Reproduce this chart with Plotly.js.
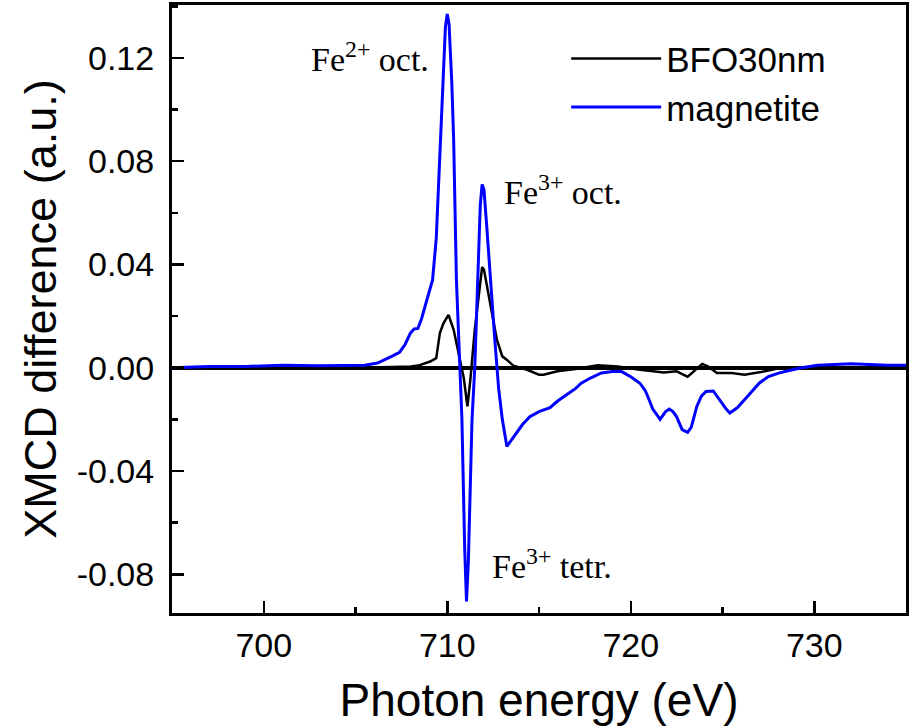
<!DOCTYPE html>
<html>
<head>
<meta charset="utf-8">
<script src="https://cdn.plot.ly/plotly-3.0.1.min.js"></script>
<style>html,body{margin:0;padding:0;background:#fff;}#chart{width:914px;height:726px;}</style>
</head>
<body>
<div id="chart"></div>
<script>
// Magnetite XMCD (blue)
const magEnergy = [695,697,699,701,703,704.5,705.5,706.2,706.6,707.0,707.4,707.7,708.0,708.2,708.4,708.6,708.8,709.0,709.2,709.4,709.6,709.75,709.9,710.0,710.1,710.25,710.35,710.5,710.65,710.8,710.95,711.05,711.15,711.35,711.5,711.65,711.8,711.9,712.0,712.15,712.35,712.6,712.8,713.0,713.25,713.5,713.8,714.1,714.5,715.0,715.6,716.0,716.5,717.0,717.3,717.8,718.4,719.0,719.5,720.0,720.5,720.8,721.0,721.2,721.4,721.6,721.9,722.1,722.3,722.5,722.8,723.1,723.3,723.4,723.6,723.85,724.1,724.5,724.9,725.2,725.4,725.8,726.2,726.6,727.0,727.5,728.1,728.7,729.3,730.2,731,732,733,734,735];
const magValue = [0.0,0.0005,0.0005,0.001,0.0008,0.0008,0.001,0.0018,0.003,0.0045,0.006,0.009,0.0135,0.015,0.0152,0.019,0.024,0.029,0.034,0.05,0.082,0.11,0.132,0.137,0.133,0.11,0.088,0.034,0.01,-0.02,-0.07,-0.0905,-0.075,-0.02,0.0,0.035,0.063,0.071,0.069,0.055,0.034,0.01,-0.008,-0.02,-0.0305,-0.028,-0.025,-0.022,-0.019,-0.017,-0.0155,-0.013,-0.0105,-0.008,-0.006,-0.004,-0.002,-0.0015,-0.0015,-0.0035,-0.006,-0.009,-0.0124,-0.016,-0.018,-0.02,-0.017,-0.016,-0.017,-0.019,-0.024,-0.025,-0.023,-0.02,-0.015,-0.011,-0.0092,-0.009,-0.013,-0.016,-0.0175,-0.0155,-0.0124,-0.009,-0.006,-0.0034,-0.002,-0.001,0.0,0.001,0.0012,0.0015,0.0013,0.001,0.001];

// BFO30nm XMCD (black)
const bfoEnergy = [695,700,705,707,708,708.5,709.07,709.4,709.6,709.8,710.07,710.35,710.6,710.9,711.1,711.26,711.5,711.8,711.9,712.0,712.2,712.45,712.7,713.0,713.26,713.6,714.0,714.35,715.0,715.25,716.0,717.0,718.2,719.3,720.5,721.8,722.5,723.1,723.5,723.9,724.2,724.7,725.5,726.2,727.3,728.2,730,735];
const bfoValue = [0,0,0,0.0003,0.0005,0.001,0.0024,0.0037,0.0135,0.0173,0.0205,0.0147,0.0057,-0.004,-0.015,-0.0046,0.0147,0.034,0.039,0.038,0.030,0.021,0.011,0.0044,0.003,0.0008,0.0,-0.0008,-0.0027,-0.0027,-0.0014,-0.0005,0.001,0.0005,-0.0008,-0.0018,-0.0014,-0.0035,-0.001,0.0015,0.0005,-0.002,-0.002,-0.0027,-0.0014,0.0,0.0,0];

const seriesNames = ["BFO30nm", "magnetite"];
const xTickVals = [700, 710, 720, 730];
const yTickVals = [-0.08, -0.04, 0.00, 0.04, 0.08, 0.12];
const yTickText = ["-0.08", "-0.04", "0.00", "0.04", "0.08", "0.12"];

const sans = "Liberation Sans, Arial, sans-serif";
const serif = "Liberation Serif, Times New Roman, serif";

const traces = [
  {x: bfoEnergy, y: bfoValue, name: seriesNames[0], mode: "lines",
   line: {color: "#000000", width: 2.5}},
  {x: magEnergy, y: magValue, name: seriesNames[1], mode: "lines",
   line: {color: "#0000ff", width: 3}}
];

const axisCommon = {
  showgrid: false, showline: true, linecolor: "#000", linewidth: 3, mirror: true,
  ticks: "inside", ticklen: 12, tickwidth: 2.5, tickcolor: "#000",
  tickfont: {family: sans, size: 34, color: "#000"}
};

const layout = {
  width: 914, height: 726,
  margin: {l: 172, r: 8, t: 5, b: 113},
  paper_bgcolor: "#fff", plot_bgcolor: "#fff",
  showlegend: true,
  legend: {x: 0.537, y: 0.96, xanchor: "left", yanchor: "top",
           font: {family: sans, size: 35, color: "#000"},
           bgcolor: "rgba(0,0,0,0)", itemwidth: 90, tracegroupgap: 0},
  xaxis: Object.assign({}, axisCommon, {
    range: [695, 735], tickvals: xTickVals, ticktext: xTickVals.map(String),
    minor: {dtick: 5, ticks: "inside", ticklen: 6, tickwidth: 2.5, tickcolor: "#000"},
    zeroline: false,
    title: {text: "Photon energy (eV)", font: {family: sans, size: 46, color: "#000"}}
  }),
  yaxis: Object.assign({}, axisCommon, {
    range: [-0.095, 0.1405], tickvals: yTickVals, ticktext: yTickText,
    ticklabelstandoff: 8,
    minor: {dtick: 0.02, ticks: "inside", ticklen: 6, tickwidth: 2.5, tickcolor: "#000"},
    zeroline: true, zerolinecolor: "#000", zerolinewidth: 4,
    automargin: true,
    title: {text: "XMCD difference (a.u.)", standoff: 6,
            font: {family: sans, size: 45, color: "#000"}}
  }),
  annotations: [
    {x: 705.8, y: 0.1205, xref: "x", yref: "y", showarrow: false,
     text: "Fe<sup>2+</sup> oct.", font: {family: serif, size: 34, color: "#000"}},
    {x: 716.3, y: 0.069, xref: "x", yref: "y", showarrow: false,
     text: "Fe<sup>3+</sup> oct.", font: {family: serif, size: 34, color: "#000"}},
    {x: 715.7, y: -0.076, xref: "x", yref: "y", showarrow: false,
     text: "Fe<sup>3+</sup> tetr.", font: {family: serif, size: 34, color: "#000"}}
  ]
};

Plotly.newPlot("chart", traces, layout, {displayModeBar: false, staticPlot: true});
</script>
</body>
</html>
